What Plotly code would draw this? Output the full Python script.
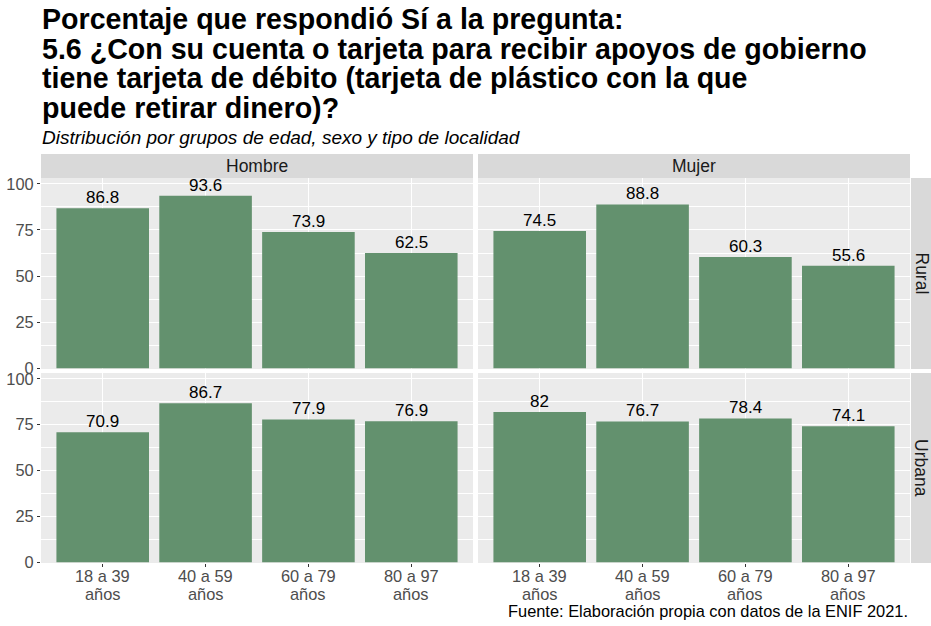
import plotly.graph_objects as go

W, H = 931, 626

edades = ["18 a 39<br>años", "40 a 59<br>años", "60 a 79<br>años", "80 a 97<br>años"]
sexos = ["Hombre", "Mujer"]
localidades = ["Rural", "Urbana"]

hombre_rural = [86.8, 93.6, 73.9, 62.5]
mujer_rural = [74.5, 88.8, 60.3, 55.6]
hombre_urbana = [70.9, 86.7, 77.9, 76.9]
mujer_urbana = [82, 76.7, 78.4, 74.1]

valores = {
    ("Rural", "Hombre"): hombre_rural,
    ("Rural", "Mujer"): mujer_rural,
    ("Urbana", "Hombre"): hombre_urbana,
    ("Urbana", "Mujer"): mujer_urbana,
}

titulo = [
    "Porcentaje que respondió Sí a la pregunta:",
    "5.6 ¿Con su cuenta o tarjeta para recibir apoyos de gobierno",
    "tiene tarjeta de débito (tarjeta de plástico con la que",
    "puede retirar dinero)?",
]
subtitulo = "Distribución por grupos de edad, sexo y tipo de localidad"
fuente = "Fuente: Elaboración propia con datos de la ENIF 2021."

FONT = "Liberation Sans, Arial, sans-serif"
BAR = "#63916E"
PANEL = "#EBEBEB"
STRIP = "#D9D9D9"

TITLE_SIZE = 28.6
SUB_SIZE = 19
STRIP_SIZE = 17.5
TICK_SIZE = 16.4
LABEL_SIZE = 17
CAP_SIZE = 16.4

def px_x(p):
    return p / W

def px_y(p):
    return 1 - p / H

col_px = [(41, 473), (478, 910)]
row_px = [(178, 369), (373, 563)]

fig = go.Figure()
layout = {}
shapes = []
annotations = []
k = 0
for r, loc in enumerate(localidades):
    for c, sx in enumerate(sexos):
        k += 1
        xa = "x" if k == 1 else f"x{k}"
        ya = "y" if k == 1 else f"y{k}"
        vals = valores[(loc, sx)]
        fig.add_trace(go.Bar(
            x=edades, y=vals, xaxis=xa, yaxis=ya,
            marker=dict(color=BAR, line=dict(width=0)),
            width=0.9, showlegend=False, hoverinfo="skip",
        ))
        for cat, v in zip(edades, vals):
            annotations.append(dict(
                x=cat, y=v, xref=xa, yref=ya, text=f"{v:g}", showarrow=False,
                xanchor="center", yanchor="middle", yshift=10.7,
                font=dict(size=LABEL_SIZE, color="black", family=FONT)))
        if r == 1:
            for cat in edades:
                l1, l2 = cat.split("<br>")
                annotations.append(dict(
                    x=cat, y=px_y(576), xref=xa, yref="paper", text=l1, showarrow=False,
                    xanchor="center", yanchor="middle",
                    font=dict(size=TICK_SIZE, color="#4D4D4D", family=FONT)))
                annotations.append(dict(
                    x=cat, y=px_y(594), xref=xa, yref="paper", text=l2, showarrow=False,
                    xanchor="center", yanchor="middle",
                    font=dict(size=TICK_SIZE, color="#4D4D4D", family=FONT)))
        x0, x1 = col_px[c]
        y0, y1 = row_px[r]
        layout["xaxis" if k == 1 else f"xaxis{k}"] = dict(
            domain=[px_x(x0), px_x(x1)], anchor=ya,
            type="category", range=[-0.6, 3.6],
            showgrid=True, gridcolor="white", gridwidth=1.1,
            showticklabels=False, ticks="outside" if r == 1 else "",
            ticklen=3, tickcolor="#333333", tickwidth=1,
            showline=False, zeroline=False, automargin=False,
            fixedrange=True,
        )
        layout["yaxis" if k == 1 else f"yaxis{k}"] = dict(
            domain=[px_y(y1), px_y(y0)], anchor=xa,
            range=[-0.4, 103.2], tickvals=[0, 25, 50, 75, 100],
            showgrid=True, gridcolor="white", gridwidth=1.1,
            minor=dict(tick0=12.5, dtick=25, showgrid=True, gridcolor="white", gridwidth=0.5, ticks=""),
            showticklabels=(c == 0), ticks="outside" if c == 0 else "",
            ticklen=3, tickcolor="#333333", tickwidth=1,
            tickfont=dict(size=TICK_SIZE, color="#4D4D4D", family=FONT),
            showline=False, zeroline=False, automargin=False,
            fixedrange=True,
        )

for (x0, x1) in col_px:
    for (y0, y1) in row_px:
        shapes.append(dict(type="rect", xref="paper", yref="paper", layer="below",
                           x0=px_x(x0), x1=px_x(x1), y0=px_y(y1), y1=px_y(y0),
                           fillcolor=PANEL, line=dict(width=0)))
for c, sx in enumerate(sexos):
    x0, x1 = col_px[c]
    shapes.append(dict(type="rect", xref="paper", yref="paper",
                       x0=px_x(x0), x1=px_x(x1), y0=px_y(178), y1=px_y(154),
                       fillcolor=STRIP, line=dict(width=0)))
    annotations.append(dict(x=px_x((x0 + x1) / 2), y=px_y(166), xref="paper", yref="paper",
                            text=sx, showarrow=False, xanchor="center", yanchor="middle",
                            font=dict(size=STRIP_SIZE, color="#1A1A1A", family=FONT)))
for r, loc in enumerate(localidades):
    y0, y1 = row_px[r]
    shapes.append(dict(type="rect", xref="paper", yref="paper",
                       x0=px_x(911), x1=px_x(931), y0=px_y(y1), y1=px_y(y0),
                       fillcolor=STRIP, line=dict(width=0)))
    annotations.append(dict(x=px_x(921), y=px_y((y0 + y1) / 2), xref="paper", yref="paper",
                            text=loc, showarrow=False, textangle=90,
                            xanchor="center", yanchor="middle",
                            font=dict(size=STRIP_SIZE, color="#1A1A1A", family=FONT)))

baselines = [28.5, 58, 87.5, 117]
for line, b in zip(titulo, baselines):
    annotations.append(dict(x=px_x(40), y=px_y(b - 0.33 * TITLE_SIZE), xref="paper", yref="paper",
                            text=f"<b>{line}</b>", showarrow=False,
                            xanchor="left", yanchor="middle", align="left",
                            font=dict(size=TITLE_SIZE, color="black", family=FONT)))
annotations.append(dict(x=px_x(40), y=px_y(144 - 0.33 * SUB_SIZE), xref="paper", yref="paper",
                        text=f"<i>{subtitulo}</i>", showarrow=False,
                        xanchor="left", yanchor="middle",
                        font=dict(size=SUB_SIZE, color="black", family=FONT)))
annotations.append(dict(x=px_x(910), y=px_y(611), xref="paper", yref="paper",
                        text=fuente, showarrow=False,
                        xanchor="right", yanchor="middle",
                        font=dict(size=CAP_SIZE, color="black", family=FONT)))

fig.update_layout(
    width=W, height=H,
    margin=dict(l=0, r=0, t=0, b=0),
    paper_bgcolor="white", plot_bgcolor="rgba(0,0,0,0)",
    shapes=shapes, annotations=annotations,
    bargap=0.1, font=dict(family=FONT),
    **layout,
)

fig.write_html("out.html", config={"displayModeBar": False},
               post_script="document.body.style.margin='0';document.body.style.overflow='hidden';")
